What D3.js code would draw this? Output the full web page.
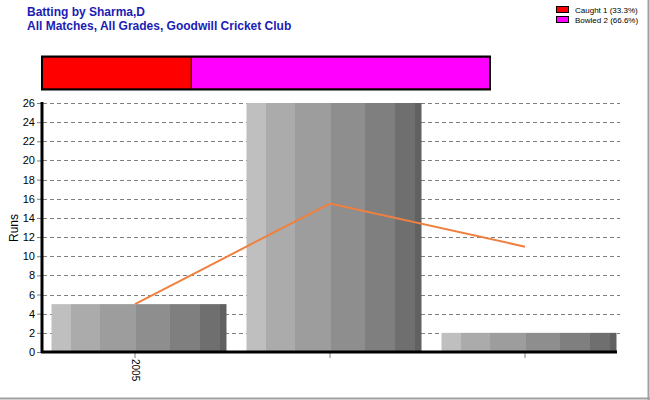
<!DOCTYPE html>
<html><head><meta charset="utf-8">
<script src="https://cdn.jsdelivr.net/npm/d3@7"></script>
<style>body{margin:0;background:#fff}svg{display:block;font-family:Arial,"Liberation Sans",sans-serif}</style>
</head><body><svg id="c" width="650" height="400"></svg>
<script>
const titles = ["Batting by Sharma,D", "All Matches, All Grades, Goodwill Cricket Club"];
const categories = ["2005", "", " "];
const runs = [5, 26, 2];
const average = [5, 15.5, 11];
const yTicks = [0,2,4,6,8,10,12,14,16,18,20,22,24,26];
const dismissalLabels = ["Caught 1 (33.3%)", "Bowled 2 (66.6%)"];
const dismissalCounts = [1, 2];
const dismissalColors = ["#ff0000", "#ff00ff"];
const stripeGrays = ["#bfbfbf","#ababab","#9d9d9d","#8e8e8e","#7f7f7f","#6f6f6f","#616161"];
const stripeStops = [0, 0.114, 0.28, 0.48, 0.68, 0.846, 0.96, 1];

const svg = d3.select("#c");
// outer border (right/bottom)
svg.append("line").attr("x1",648.5).attr("x2",648.5).attr("y1",0).attr("y2",400).attr("stroke","#a0a0a0").attr("stroke-width",2);
svg.append("line").attr("x1",0).attr("x2",650).attr("y1",398.5).attr("y2",398.5).attr("stroke","#a0a0a0").attr("stroke-width",2);

// titles
svg.selectAll("text.title").data(titles).join("text").attr("class","title")
  .attr("x",27).attr("y",(d,i)=>16+i*14).attr("fill","#1c1cb4")
  .attr("font-size",12).attr("font-weight","bold").text(d=>d);

// legend
const lg = svg.append("g");
dismissalLabels.forEach((t,i)=>{
  lg.append("rect").attr("x",556.5).attr("y",6.5+i*10).attr("width",12).attr("height",6)
    .attr("fill",dismissalColors[i]).attr("stroke","#000").attr("stroke-width",1);
  lg.append("text").attr("x",575).attr("y",13+i*10).attr("font-size",8).attr("fill","#000").text(t);
});

// dismissal bar
const total = d3.sum(dismissalCounts);
const xd = d3.scaleLinear().domain([0,total]).range([42,490]);
let acc = 0;
const segs = dismissalCounts.map((c,i)=>{const s={x0:acc,x1:acc+c,color:dismissalColors[i]};acc+=c;return s;});
svg.selectAll("rect.seg").data(segs).join("rect").attr("class","seg")
  .attr("x",d=>xd(d.x0)).attr("width",d=>xd(d.x1)-xd(d.x0)).attr("y",57).attr("height",32)
  .attr("fill",d=>d.color).attr("stroke","#400000").attr("stroke-width",1);
svg.append("rect").attr("x",42).attr("y",56.5).attr("width",448).attr("height",33)
  .attr("fill","none").attr("stroke","#000").attr("stroke-width",2);

// scales
const y = d3.scaleLinear().domain([0,26]).range([352,103]);
const x = d3.scaleBand().domain(categories).range([37.5,622.5]).paddingInner(0).paddingOuter(0);

// gradient
const defs = svg.append("defs");
const grad = defs.append("linearGradient").attr("id","stripes").attr("x1","0").attr("x2","1").attr("y1","0").attr("y2","0");
stripeGrays.forEach((c,i)=>{
  grad.append("stop").attr("offset",stripeStops[i]).attr("stop-color",c);
  grad.append("stop").attr("offset",stripeStops[i+1]).attr("stop-color",c);
});

// gridlines
svg.append("g").selectAll("line").data(yTicks.slice(1)).join("line")
  .attr("x1",43).attr("x2",620).attr("y1",d=>Math.round(y(d))+0.5).attr("y2",d=>Math.round(y(d))+0.5)
  .attr("stroke","#808080").attr("stroke-dasharray","4,3").attr("stroke-width",1);

// bars
const inset = 14;
svg.append("g").selectAll("rect").data(runs).join("rect")
  .attr("x",(d,i)=>x(categories[i])+inset).attr("width",x.bandwidth()-20)
  .attr("y",d=>y(d)).attr("height",d=>y(0)-y(d)).attr("fill","url(#stripes)");

// y axis
const ya = svg.append("g").attr("transform","translate(42,0)")
  .call(d3.axisLeft(y).tickValues(yTicks).tickSize(5).tickPadding(2).tickFormat(d3.format("d")));
ya.select(".domain").remove();
ya.selectAll(".tick line").attr("stroke","#808080");
ya.selectAll("text").attr("font-size",11).attr("fill","#000").attr("font-family","Arial, 'Liberation Sans', sans-serif");
svg.append("line").attr("x1",42).attr("x2",42).attr("y1",102).attr("y2",353).attr("stroke","#000").attr("stroke-width",3);

// x axis
const xa = svg.append("g").attr("transform","translate(0,352)")
  .call(d3.axisBottom(x).tickSize(6).tickPadding(3));
xa.select(".domain").remove();
xa.selectAll(".tick line").attr("stroke","#808080");
xa.selectAll("text").attr("font-size",10).attr("fill","#000").attr("font-family","Arial, 'Liberation Sans', sans-serif")
  .attr("transform","rotate(90)").attr("text-anchor","start").attr("dy","0.35em").attr("x",7).attr("y",0);
svg.append("line").attr("x1",41).attr("x2",617).attr("y1",352).attr("y2",352).attr("stroke","#000").attr("stroke-width",3);

// average line
const line = d3.line().x((d,i)=>x(categories[i])+x.bandwidth()/2).y(d=>y(d));
svg.append("path").datum(average).attr("d",line).attr("fill","none").attr("stroke","#f08040").attr("stroke-width",2);

// y label
svg.append("text").attr("transform","translate(18,228) rotate(-90)").attr("text-anchor","middle")
  .attr("font-size",12).attr("fill","#000").text("Runs");
</script></body></html>
